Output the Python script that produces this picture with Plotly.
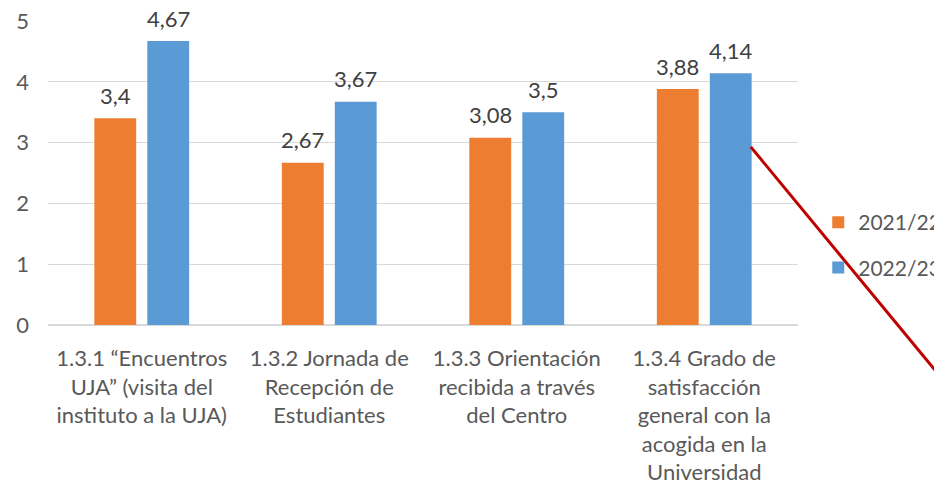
import plotly.graph_objects as go

categories = [
    "1.3.1 “Encuentros<br>UJA” (visita del<br>instituto a la UJA)",
    "1.3.2 Jornada de<br>Recepción de<br>Estudiantes",
    "1.3.3 Orientación<br>recibida a través<br>del Centro",
    "1.3.4 Grado de<br>satisfacción<br>general con la<br>acogida en la<br>Universidad",
]
series_names = ["2021/22", "2022/23"]
values_2021 = [3.4, 2.67, 3.08, 3.88]
values_2022 = [4.67, 3.67, 3.5, 4.14]
colors = ["#ED7D31", "#5B9BD5"]

def fmt(v):
    return ("%g" % v).replace(".", ",")

FONT = "Lato"
TXT = "#595959"

fig = go.Figure()
annotations = []
for i, (name, vals, col) in enumerate(zip(series_names, [values_2021, values_2022], colors)):
    fig.add_trace(go.Bar(
        x=categories, y=vals, name=name, marker_color=col,
        marker_line_width=0, legendgroup=name,
    ))
    shift = -26.5 if i == 0 else 26.5
    for c, v in zip(categories, vals):
        annotations.append(dict(
            x=c, y=v, xref="x", yref="y", text=fmt(v), showarrow=False,
            xanchor="center", yanchor="middle", xshift=shift, yshift=23,
            font=dict(family=FONT, size=22, color="#404040"),
        ))

fig.update_layout(
    width=934, height=477,
    margin=dict(l=40, r=144, t=13, b=160, autoexpand=False),
    paper_bgcolor="white", plot_bgcolor="white",
    barmode="group", bargap=0.435, bargroupgap=0.21,
    font=dict(family=FONT, size=22, color=TXT),
    showlegend=True,
    legend=dict(x=1.027, y=0.263, xanchor="left", yanchor="middle",
                font=dict(family=FONT, size=21, color=TXT),
                tracegroupgap=15, bgcolor="rgba(0,0,0,0)"),
    annotations=annotations,
    shapes=[dict(type="line", xref="paper", yref="paper",
                 x0=0.937, y0=0.586, x1=1.25, y1=-0.35,
                 line=dict(color="#C00000", width=3))],
)
fig.update_yaxes(range=[0, 5], dtick=1, showgrid=True, gridcolor="#D9D9D9",
                 gridwidth=1, zeroline=True, zerolinecolor="#D9D9D9",
                 showline=False, ticks="", ticklabelstandoff=18,
                 ticklabeloverflow="allow",
                 tickfont=dict(family=FONT, size=22, color=TXT))
fig.update_xaxes(showgrid=False, showline=False, ticks="", ticklabelstandoff=18,
                 ticklabeloverflow="allow",
                 tickfont=dict(family=FONT, size=22, color=TXT))

fig.write_html("out.html")
